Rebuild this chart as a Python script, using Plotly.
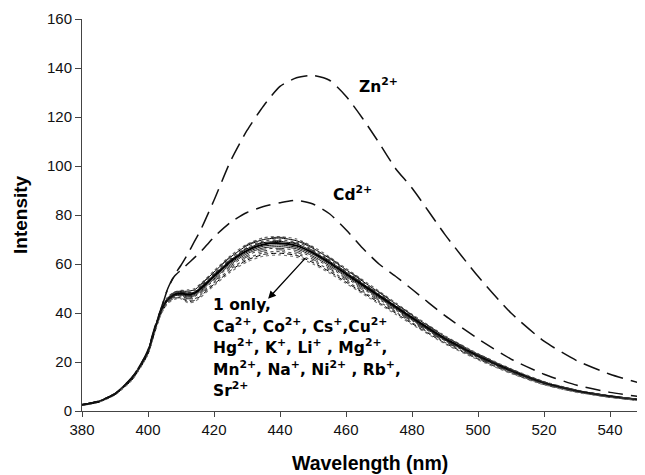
import plotly.graph_objects as go

# ---------------- data ----------------
wavelength = [380, 385, 390, 395, 398, 400, 402, 404, 406, 408, 410,
              412, 414, 416, 420, 425, 430, 435, 440, 445, 450, 455, 460,
              465, 470, 475, 480, 490, 500, 510, 520, 530, 540, 550]

zn = [2.5, 4, 7, 13.5, 19.5, 25, 34, 42, 50, 55.5, 59.5,
      64, 69, 74, 86, 102, 114.5, 124.5, 132.5, 136, 137, 135, 128.5,
      119.5, 109.5, 99, 91, 72, 55, 40, 28.5, 20.5, 15, 11]

cd = [2.5, 4, 7, 13.5, 19.5, 24.5, 33.5, 41.5, 50, 55, 57.5,
      60, 62.5, 65, 71, 77, 81, 83.5, 85, 86, 84.5, 80.5, 74,
      66.5, 60, 55, 49.7, 38.9, 29.5, 21.2, 15, 10.5, 7.6, 5.7]

only1 = [2.5, 3.8, 7, 13, 19, 24, 33, 41, 45.5, 47.5, 48,
         47.5, 48, 50, 55, 61, 65.5, 68, 68.5, 67.5, 64.5, 60.5, 56,
         51.5, 47, 42.5, 38, 29.5, 22.5, 16.5, 11.5, 8.2, 6, 4.4]
ca = [2.5, 3.9, 7.1, 13.2, 19.3, 24.4, 33.5, 41.6, 46.2, 48.3, 48.8,
      48.9, 49.4, 51.5, 56.7, 62.8, 67.5, 70.0, 70.6, 69.5, 66.4, 62.3, 57.7,
      53.0, 48.4, 43.8, 39.1, 30.4, 23.2, 17.0, 11.8, 8.4, 6.2, 4.5]
co = [2.4, 3.7, 6.8, 12.7, 18.6, 23.5, 32.4, 40.3, 44.8, 46.6, 46.9,
      45.8, 46.1, 48.0, 52.8, 58.6, 62.9, 65.3, 65.8, 64.8, 61.9, 58.1, 53.8,
      49.4, 45.1, 40.8, 36.5, 28.3, 21.6, 15.8, 11.0, 7.9, 5.8, 4.2]
cs = [2.6, 3.9, 7.1, 13.1, 19.2, 24.2, 33.3, 41.4, 46, 48, 48.5,
      48.5, 49.0, 51.0, 56.1, 62.2, 66.8, 69.4, 69.9, 68.9, 65.8, 61.7, 57.1,
      52.5, 47.9, 43.4, 38.8, 30.1, 23.0, 16.8, 11.7, 8.4, 6.1, 4.5]
cu = [2.4, 3.6, 6.7, 12.5, 18.4, 23.3, 32, 39.8, 44.3, 46, 46.2,
      44.7, 45.1, 47.0, 51.7, 57.3, 61.6, 63.9, 64.4, 63.5, 60.6, 56.9, 52.6,
      48.4, 44.2, 40.0, 35.7, 27.7, 21.2, 15.5, 10.8, 7.7, 5.6, 4.1]
hg = [2.5, 3.7, 6.9, 12.8, 18.8, 23.8, 32.7, 40.6, 45.1, 47, 47.3,
      46.6, 47.0, 49.0, 53.9, 59.8, 64.2, 66.6, 67.1, 66.2, 63.2, 59.3, 54.9,
      50.5, 46.1, 41.7, 37.2, 28.9, 22.1, 16.2, 11.3, 8.0, 5.9, 4.3]
k = [2.6, 4, 7.2, 13.4, 19.5, 24.6, 33.8, 42, 46.6, 48.6, 49.2,
     49.4, 49.9, 52.0, 57.2, 63.4, 68.1, 70.7, 71.2, 70.2, 67.1, 62.9, 58.2,
     53.6, 48.9, 44.2, 39.5, 30.7, 23.4, 17.2, 12.0, 8.5, 6.2, 4.6]
li = [2.4, 3.7, 6.8, 12.7, 18.7, 23.6, 32.5, 40.4, 45, 46.8, 47.1,
      46.1, 46.6, 48.5, 53.4, 59.2, 63.5, 66.0, 66.4, 65.5, 62.6, 58.7, 54.3,
      50.0, 45.6, 41.2, 36.9, 28.6, 21.8, 16.0, 11.2, 8.0, 5.8, 4.3]
mg = [2.5, 3.8, 7, 13.1, 19.1, 24.1, 33.2, 41.2, 45.8, 47.8, 48.3,
      48.0, 48.5, 50.5, 55.6, 61.6, 66.2, 68.7, 69.2, 68.2, 65.1, 61.1, 56.6,
      52.0, 47.5, 42.9, 38.4, 29.8, 22.7, 16.7, 11.6, 8.3, 6.1, 4.4]
mn = [2.4, 3.7, 6.8, 12.6, 18.5, 23.4, 32.2, 40, 44.6, 46.3, 46.6,
      45.1, 45.6, 47.5, 52.3, 58.0, 62.2, 64.6, 65.1, 64.1, 61.3, 57.5, 53.2,
      48.9, 44.7, 40.4, 36.1, 28.0, 21.4, 15.7, 10.9, 7.8, 5.7, 4.2]
na = [2.5, 3.9, 7.1, 13.2, 19.2, 24.2, 33.3, 41.3, 45.9, 47.9, 48.4,
      48.2, 48.7, 50.8, 55.8, 61.9, 66.5, 69.0, 69.5, 68.5, 65.5, 61.4, 56.8,
      52.3, 47.7, 43.1, 38.6, 29.9, 22.8, 16.7, 11.7, 8.3, 6.1, 4.5]
ni = [2.3, 3.6, 6.6, 12.4, 18.3, 23.2, 31.8, 39.6, 44, 45.6, 45.8,
      44.2, 44.6, 46.5, 51.2, 56.7, 60.9, 63.2, 63.7, 62.8, 60.0, 56.3, 52.1,
      47.9, 43.7, 39.5, 35.3, 27.4, 20.9, 15.3, 10.7, 7.6, 5.6, 4.1]
rb = [2.5, 3.8, 7, 12.9, 18.9, 23.9, 32.9, 40.8, 45.3, 47.2, 47.6,
      47.0, 47.5, 49.5, 54.5, 60.4, 64.8, 67.3, 67.8, 66.8, 63.9, 59.9, 55.4,
      51.0, 46.5, 42.1, 37.6, 29.2, 22.3, 16.3, 11.4, 8.1, 5.9, 4.4]
sr = [2.6, 4, 7.2, 13.3, 19.4, 24.5, 33.6, 41.8, 46.4, 48.5, 49,
      49.2, 49.7, 51.8, 56.9, 63.1, 67.8, 70.4, 70.9, 69.9, 66.8, 62.6, 58.0,
      53.3, 48.6, 44.0, 39.3, 30.5, 23.3, 17.1, 11.9, 8.5, 6.2, 4.6]

cluster_names = ["1 only", "Ca2+", "Co2+", "Cs+", "Cu2+", "Hg2+", "K+", "Li+",
                 "Mg2+", "Mn2+", "Na+", "Ni2+", "Rb+", "Sr2+"]
cluster_values = [only1, ca, co, cs, cu, hg, k, li, mg, mn, na, ni, rb, sr]

x_ticks = [380, 400, 420, 440, 460, 480, 500, 520, 540]
y_ticks = [0, 20, 40, 60, 80, 100, 120, 140, 160]

label_lines = [
    "1 only,",
    "Ca<sup>2+</sup>, Co<sup>2+</sup>, Cs<sup>+</sup>,Cu<sup>2+</sup>",
    "Hg<sup>2+</sup>, K<sup>+</sup>, Li<sup>+</sup> , Mg<sup>2+</sup>,",
    "Mn<sup>2+</sup>, Na<sup>+</sup>, Ni<sup>2+</sup> , Rb<sup>+</sup>,",
    "Sr<sup>2+</sup>",
]

# ---------------- styles ----------------
cluster_styles = [
    dict(color="#000000", width=2.0, dash="solid"),
    dict(color="#000000", width=1.0, dash="solid"),
    dict(color="#333333", width=1.0, dash="dash"),
    dict(color="#555555", width=1.2, dash="dot"),
    dict(color="#000000", width=1.0, dash="5px,3px"),
    dict(color="#222222", width=1.0, dash="solid"),
    dict(color="#666666", width=1.2, dash="dot"),
    dict(color="#333333", width=1.0, dash="dashdot"),
    dict(color="#000000", width=1.0, dash="solid"),
    dict(color="#555555", width=1.2, dash="dot"),
    dict(color="#222222", width=1.0, dash="dash"),
    dict(color="#777777", width=1.2, dash="dot"),
    dict(color="#111111", width=1.0, dash="solid"),
    dict(color="#333333", width=1.0, dash="longdash"),
]

FONT = "Liberation Sans, Arial, sans-serif"
LFONT = "DejaVu Sans, Verdana, sans-serif"

fig = go.Figure()
for name, vals, st in zip(cluster_names, cluster_values, cluster_styles):
    fig.add_trace(go.Scatter(x=wavelength, y=vals, mode="lines", name=name,
                             line=dict(shape="spline", smoothing=0.6, **st)))
fig.add_trace(go.Scatter(x=wavelength, y=cd, mode="lines", name="Cd2+",
                         line=dict(color="#111111", width=1.5, dash="15px,8px",
                                   shape="spline", smoothing=0.6)))
fig.add_trace(go.Scatter(x=wavelength, y=zn, mode="lines", name="Zn2+",
                         line=dict(color="#111111", width=1.5, dash="17px,8px",
                                   shape="spline", smoothing=0.6)))

lab_font = dict(family=LFONT, size=15.5, color="#000", weight="bold")
anns = []
anns.append(dict(x=463.2, y=132.7, xref="x", yref="y", text="Zn<sup>2+</sup>",
                 showarrow=False, xanchor="left", yanchor="middle", font=lab_font))
anns.append(dict(x=455.6, y=88.6, xref="x", yref="y", text="Cd<sup>2+</sup>",
                 showarrow=False, xanchor="left", yanchor="middle", font=lab_font))
line_y = [43.4, 34.8, 26.2, 17.4, 8.8]
for txt, yy in zip(label_lines, line_y):
    anns.append(dict(x=419, y=yy, xref="x", yref="y", text=txt,
                     showarrow=False, xanchor="left", yanchor="middle", font=lab_font))
# arrow
anns.append(dict(x=436.4, y=45.8, ax=448.1, ay=63.0, xref="x", yref="y",
                 axref="x", ayref="y", text="", showarrow=True,
                 arrowhead=2, arrowsize=1.2, arrowwidth=1.3, arrowcolor="#000"))
# axis titles
anns.append(dict(x=-0.1105, y=0.5, xref="paper", yref="paper", text="Intensity",
                 textangle=-90, showarrow=False, xanchor="center", yanchor="middle",
                 font=dict(family=FONT, size=19, color="#000", weight="bold")))
anns.append(dict(x=0.513, y=-0.132, xref="paper", yref="paper", text="Wavelength (nm)",
                 showarrow=False, xanchor="center", yanchor="middle",
                 font=dict(family=FONT, size=19.5, color="#000", weight="bold")))

# page body has an 8px margin: figure sized so it fills the 645x475 window
fig.update_layout(
    width=637, height=467,
    margin=dict(l=74, r=2, t=9, b=64),
    paper_bgcolor="white", plot_bgcolor="white",
    showlegend=False,
    annotations=anns,
    font=dict(family=FONT, size=15, color="#111"),
)
fig.update_xaxes(range=[380, 550], tickmode="array", tickvals=x_ticks,
                 ticks="outside", ticklen=5, tickwidth=1, tickcolor="#444",
                 showline=True, linecolor="#444", linewidth=1,
                 showgrid=False, zeroline=False,
                 tickfont=dict(family=FONT, size=15, color="#111"))
fig.update_yaxes(range=[0, 160], tickmode="array", tickvals=y_ticks,
                 ticks="outside", ticklen=6, tickwidth=1, tickcolor="#444",
                 showline=True, linecolor="#444", linewidth=1,
                 showgrid=False, zeroline=False,
                 tickfont=dict(family=FONT, size=15, color="#111"))

fig.write_html("out.html")
